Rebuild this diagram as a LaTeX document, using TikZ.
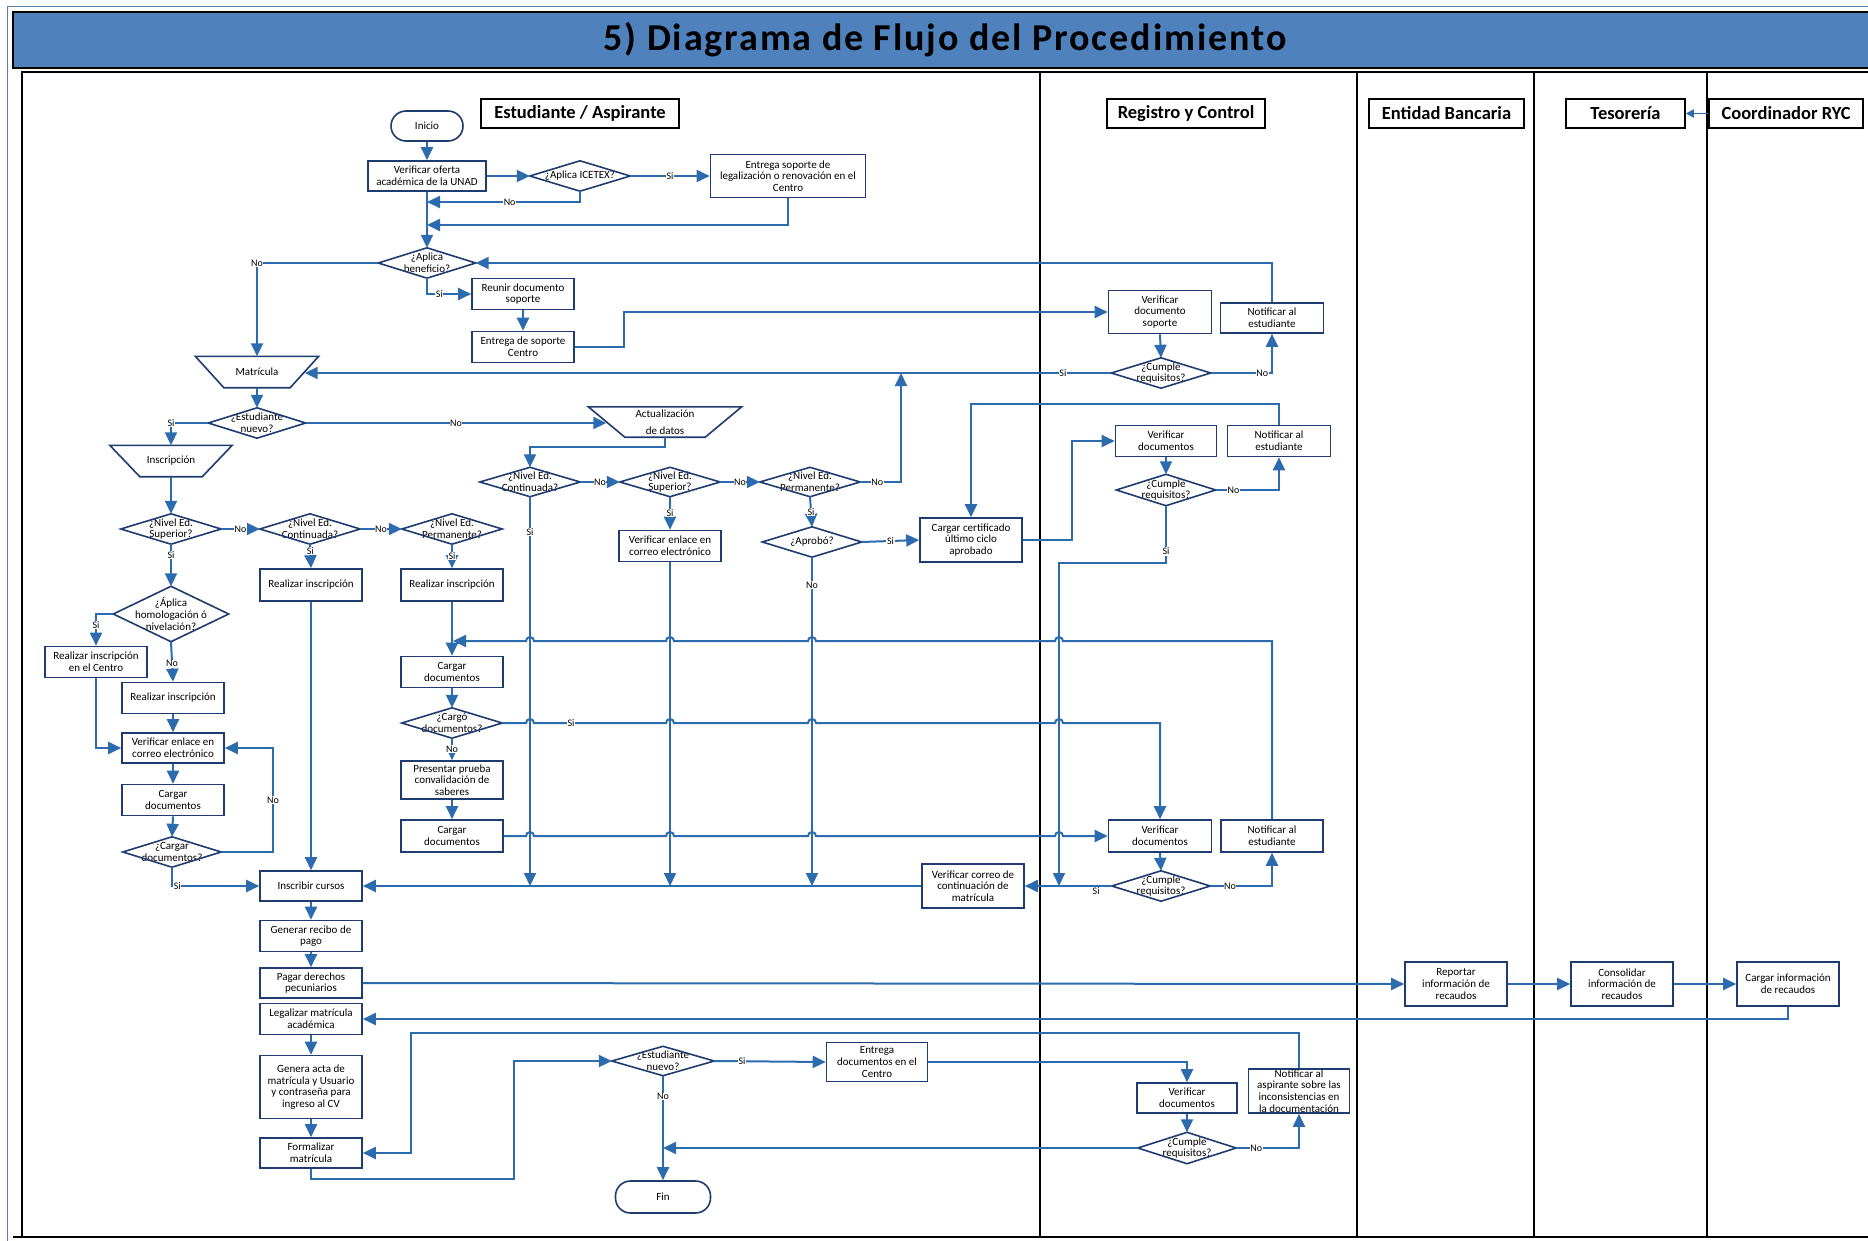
\documentclass[tikz,border=0pt]{standalone}
\usepackage{fontspec}
\setmainfont{Carlito}
\usetikzlibrary{arrows.meta}
\definecolor{boxc}{RGB}{30,60,112}
\definecolor{flowc}{RGB}{44,108,174}
\definecolor{headc}{RGB}{79,129,189}
\definecolor{rimc}{RGB}{90,125,170}
\newcommand\nf{\fontsize{11}{11.7}\selectfont}
\newcommand\lf{\fontsize{10}{11}\selectfont}
\newcommand\lanef{\bfseries\fontsize{18.5}{20}\selectfont}
% small bridge where a horizontal connector crosses a vertical one
\newcommand\hopR[2]{-- ({#1-4},#2) arc[start angle=180,end angle=0,radius=4pt]}
\newcommand\hopL[2]{-- ({#1+4},#2) arc[start angle=0,end angle=180,radius=4pt]}

\begin{document}
\begin{tikzpicture}[x=1pt,y=-1pt,
  box/.style={draw=boxc, line width=1.6pt, fill=white, minimum width=102pt, minimum height=31pt, inner sep=1pt, align=center, font=\nf},
  term/.style={box, rounded corners=15pt},
  dia/.style={minimum width=100pt, minimum height=30pt, inner sep=0pt, align=center, font=\nf},
  trap/.style={inner sep=0pt, align=center, font=\nf},
  outl/.style={draw=boxc, line width=1.6pt},
  flow/.style={draw=flowc, line width=2pt, -{Triangle[length=13pt,width=12pt]}},
  lab/.style={font=\lf, fill=white, inner sep=0.6pt, text=black},
  lane/.style={draw=black, line width=1.5pt, fill=white, font=\lanef, inner sep=0pt},
  sep/.style={draw=black, line width=2.4pt}]

\useasboundingbox (0,0) rectangle (1868,1241);
\fill[white] (0,0) rectangle (1868,1241);

% frame, title band and swimlanes
\draw[rimc, line width=1pt] (1868,7) -- (7,7) -- (7,1241);
\draw[black, line width=2pt, fill=headc] (13,12) rectangle (1880,68);
\node[font=\bfseries\fontsize{38}{42}\selectfont\addfontfeature{LetterSpace=5}] (title) at (945,40) {5) Diagrama de Flujo del Procedimiento};
\draw[sep] (22,1237) -- (22,72) -- (1868,72);
\draw[sep] (13,1237) -- (1868,1237);
\foreach \x in {1040,1357,1534,1707} \draw[sep] (\x,72) -- (\x,1237);

\node[lane, minimum width=198pt, minimum height=29pt] (hest) at (580,113.5) {Estudiante / Aspirante};
\node[lane, minimum width=158pt, minimum height=29pt] (hreg) at (1186,113.5) {Registro y Control};
\node[lane, minimum width=155pt, minimum height=29pt] (hent) at (1446.5,113.5) {Entidad Bancaria};
\node[lane, minimum width=119pt, minimum height=29pt] (htes) at (1625.5,113.5) {Tesorería};
\node[lane, minimum width=154pt, minimum height=29pt] (hcoo) at (1786,113.5) {Coordinador RYC};

% ---------- nodes ----------
\node[term, minimum width=72pt, minimum height=30pt] (ini) at (427,126) {Inicio};
\node[box, minimum width=118pt, minimum height=30pt] (vo) at (427,176) {Verificar oferta\\académica de la UNAD};
\node[dia] (ice) at (580,176) {¿Aplica ICETEX?};
\node[box, minimum width=155pt, minimum height=43pt] (esl) at (788,176) {Entrega soporte de\\legalización o renovación en el\\Centro};
\node[dia, minimum width=97pt] (ab) at (427,263) {¿Aplica\\beneficio?};
\node[box] (rds) at (523,294) {Reunir documento\\soporte};
\node[box] (esc) at (523,347) {Entrega de soporte\\Centro};
\node[box, minimum width=103pt, minimum height=43pt] (vds) at (1160,312) {Verificar\\documento\\soporte};
\node[box, minimum width=103pt, minimum height=30pt] (nt1) at (1272,318) {Notificar al\\estudiante};
\node[dia, minimum width=99pt] (cr1) at (1161,373) {¿Cumple\\requisitos?};

\node[trap, minimum width=123pt, minimum height=31pt] (mat) at (257,372) {Matrícula};
\node[dia, minimum width=97pt] (en1) at (257,423) {¿Estudiante\\nuevo?};
\node[trap, minimum width=153pt, minimum height=30pt, font=\fontsize{11}{17}\selectfont] (act) at (665,422) {Actualización\\de datos};
\node[trap, minimum width=122pt, minimum height=31pt] (ins) at (171,461) {Inscripción};

\node[dia] (ns1) at (171,529) {¿Nivel Ed.\\Superior?};
\node[dia] (nc1) at (310,529) {¿Nivel Ed.\\Continuada?};
\node[dia] (np1) at (452,529) {¿Nivel Ed.\\Permanente?};
\node[dia, minimum width=115pt, minimum height=55pt] (hom) at (171,614) {¿Áplica\\homologación ó\\nivelación?};
\node[box] (ric) at (96,662) {Realizar inscripción\\en el Centro};
\node[box] (ri1) at (173,698) {Realizar inscripción};
\node[box, minimum height=30pt] (vel1) at (173,748) {Verificar enlace en\\correo electrónico};
\node[box] (cdl) at (173,800) {Cargar\\documentos};
\node[dia, minimum width=98pt] (qcl) at (172,852) {¿Cargar\\documentos?};
\node[box, minimum height=32pt] (ri2) at (311,585) {Realizar inscripción};
\node[box, minimum height=32pt] (ri3) at (452,585) {Realizar inscripción};
\node[box] (cd3) at (452,672) {Cargar\\documentos};
\node[dia] (qc3) at (452,723) {¿Cargó\\documentos?};
\node[box, minimum height=38pt] (pp) at (452,780) {Presentar prueba\\convalidación de\\saberes};
\node[box, minimum height=32pt] (cd4) at (452,836) {Cargar\\documentos};

\node[dia, minimum height=29pt] (nc2) at (530,482) {¿Nivel Ed.\\Continuada?};
\node[dia, minimum height=29pt] (ns2) at (670,482) {¿Nivel Ed.\\Superior?};
\node[dia, minimum height=29pt] (np2) at (810,482) {¿Nivel Ed.\\Permanente?};
\node[box] (vel2) at (670,546) {Verificar enlace en\\correo electrónico};
\node[dia, minimum width=99pt] (apr) at (812,542) {¿Aprobó?};
\node[box, minimum height=44pt] (ccu) at (971,540) {Cargar certificado\\último ciclo\\aprobado};

\node[box, minimum width=101pt] (vd2) at (1166,441) {Verificar\\documentos};
\node[box, minimum width=103pt] (nt2) at (1279,441) {Notificar al\\estudiante};
\node[dia, minimum width=99pt, minimum height=31pt] (cr2) at (1166,490) {¿Cumple\\requisitos?};

\node[box, minimum width=103pt, minimum height=32pt] (vd3) at (1160,836) {Verificar\\documentos};
\node[box, minimum height=32pt] (nt3) at (1272,836) {Notificar al\\estudiante};
\node[dia, minimum width=98pt] (cr3) at (1161,886) {¿Cumple\\requisitos?};
\node[box, minimum height=44pt] (vcc) at (973,886) {Verificar correo de\\continuación de\\matrícula};

\node[box, minimum height=30pt] (ic) at (311,886) {Inscribir cursos};
\node[box] (grp) at (311,936) {Generar recibo de\\pago};
\node[box, minimum height=30pt] (pag) at (311,983) {Pagar derechos\\pecuniarios};
\node[box] (leg) at (311,1019) {Legalizar matrícula\\académica};
\node[box, minimum height=63pt] (acta) at (311,1087) {Genera acta de\\matrícula y Usuario\\y contraseña para\\ingreso al CV};
\node[box, minimum height=30pt] (form) at (311,1153) {Formalizar\\matrícula};

\node[dia, minimum width=102pt, minimum height=29pt] (en2) at (663,1061) {¿Estudiante\\nuevo?};
\node[box, minimum width=101pt, minimum height=39pt] (edc) at (877,1062) {Entrega\\documentos en el\\Centro};
\node[box, minimum width=100pt, minimum height=30pt] (vd4) at (1187,1098) {Verificar\\documentos};
\node[box, minimum width=101pt, minimum height=44pt, inner sep=0pt] (nta) at (1299,1091) {Notificar al\\aspirante sobre las\\inconsistencias en\\la documentación};
\node[dia, minimum width=98pt, minimum height=31pt] (cr4) at (1187,1148) {¿Cumple\\requisitos?};
\node[term, minimum width=95pt, minimum height=32pt] (fin) at (663,1197) {Fin};

\node[box, minimum height=44pt] (rep) at (1456,984) {Reportar\\información de\\recaudos};
\node[box, minimum height=44pt] (con) at (1622,984) {Consolidar\\información de\\recaudos};
\node[box, minimum height=44pt] (cri) at (1788,984) {Cargar información\\de recaudos};

% decision and data outlines
\foreach \d in {ice,ab,cr1,en1,ns1,nc1,np1,hom,qcl,qc3,nc2,ns2,np2,apr,cr2,cr3,en2,cr4}
  \draw[outl] (\d.north) -- (\d.east) -- (\d.south) -- (\d.west) -- cycle;
\draw[outl] (mat.north west) -- (mat.north east) -- ([xshift=-28.5pt]mat.south east) -- ([xshift=28.5pt]mat.south west) -- cycle;
\draw[outl] (act.north west) -- (act.north east) -- ([xshift=-36.5pt]act.south east) -- ([xshift=36.5pt]act.south west) -- cycle;
\draw[outl] (ins.north west) -- (ins.north east) -- ([xshift=-30pt]ins.south east) -- ([xshift=30pt]ins.south west) -- cycle;

% ---------- connectors ----------
\draw[draw=flowc, line width=1.5pt, -{Triangle[length=8pt,width=8pt]}] (hcoo.west) -- (htes.east);

\coordinate (j1) at (427,202);
\coordinate (j2) at (427,225);
\draw[flow] (ini.south) -- (vo.north);
\draw[flow] (vo.east) -- (ice.west);
\draw[flow] (ice.east) -- node[lab]{Si} (esl.west);
\draw[flow] (ice.south) |- node[lab,pos=0.73]{No} (j1);
\draw[flow] (esl.south) |- (j2);
\draw[flow] (vo.south) -- (ab.north);
\draw[flow] (ab.west) -| node[lab,pos=0.5]{No} (mat.north);
\draw[flow] (ab.south) |- node[lab,pos=0.64]{Si} (rds.west);
\draw[flow] (rds.south) -- (esc.north);
\draw[flow] (esc.east) -- ++(49,0) |- (vds.west);
\draw[flow] (vds.south) -- (cr1.north);
\draw[flow] (cr1.east) -| node[lab,pos=0.42]{No} (nt1.south);
\draw[flow] (nt1.north) |- (ab.east);
\coordinate (matR) at ([xshift=-14pt]mat.east);
\draw[flow] (cr1.west) -- node[lab,pos=0.06]{Si} (cr1.west -| matR);

\coordinate (actL) at ([xshift=18pt]act.west);
\draw[flow] (mat.south) -- (en1.north);
\draw[flow] (en1.east) -- node[lab]{No} (en1.east -| actL);
\draw[flow] (en1.west) -| node[lab,pos=0.5]{Si} (ins.north);
\draw[flow] (act.south) -- ++(0,10) -| (nc2.north);

\draw[flow] (ins.south) -- (ns1.north);
\draw[flow] (ns1.east) -- node[lab]{No} (nc1.west);
\draw[flow] (nc1.east) -- node[lab]{No} (np1.west);
\draw[flow] (ns1.south) -- node[lab,pos=0.26]{Si} (hom.north);
\draw[flow] (hom.west) -| node[lab,pos=0.67]{Si} (ric.north);
\draw[flow] (hom.south) -- node[lab,pos=0.55]{No} (ri1.north);
\draw[flow] (ri1.south) -- (vel1.north);
\draw[flow] (ric.south) |- (vel1.west);
\draw[flow] (vel1.south) -- (cdl.north);
\draw[flow] (cdl.south) -- (qcl.north);
\coordinate (qn) at (273,852);
\draw[flow] (qcl.east) -- (qn) -- node[lab]{No} (qn |- vel1.east) -- (vel1.east);
\draw[flow] (qcl.south) |- node[lab,pos=0.53]{Si} (ic.west);

\draw[flow] (nc1.south) -- node[lab,pos=0.3]{Si} (ri2.north);
\draw[flow] (ri2.south) -- (ic.north);
\draw[flow] (np1.south) -- node[lab,pos=0.5]{Si} (ri3.north);
\draw[flow] (ri3.south) -- (cd3.north);
\draw[flow] (cd3.south) -- (qc3.north);
\draw[flow] (qc3.south) -- node[lab]{No} (pp.north);
\draw[flow] (pp.south) -- (cd4.north);

\draw[flow] (nc2.east) -- node[lab]{No} (ns2.west);
\draw[flow] (ns2.east) -- node[lab]{No} (np2.west);
\draw[flow] (ns2.south) -- node[lab,pos=0.5]{Si} (vel2.north);
\draw[flow] (np2.south) -- node[lab,pos=0.5]{Si} (apr.north);
\coordinate (pup) at (901,373);
\draw[flow] (np2.east) -| node[lab,pos=0.21]{No} (pup);
\draw[flow] (apr.east) -- node[lab]{Si} (ccu.west);
\draw[flow] (nc2.south) -- node[lab,pos=0.09]{Si} (nc2.south |- ic.east);
\draw[flow] (vel2.south) -- (vel2.south |- ic.east);
\draw[flow] (apr.south) -- node[lab,pos=0.085]{No} (apr.south |- ic.east);

\draw[flow] (ccu.east) -- ++(49,0) |- (vd2.west);
\draw[flow] (vd2.south) -- (cr2.north);
\draw[flow] (cr2.east) -| node[lab,pos=0.14]{No} (nt2.south);
\draw[flow] (nt2.north) -- ++(0,-21) -| (ccu.north);
\coordinate (v4) at (1059,563);
\draw[flow] (cr2.south) -- node[lab,pos=0.8]{Si} (cr2.south |- v4) -- (v4) -- (v4 |- vcc.east);

% crossing connectors with bridges
\coordinate (m3) at (453,641);
\draw[flow] (qc3.east) \hopR{530}{723} \hopR{670}{723} \hopR{812}{723} \hopR{1059}{723} -- (vd3.north |- qc3.east) -- (vd3.north);
\node[lab] (lsi) at (571,723) {Si};
\draw[flow] (cd4.east) \hopR{530}{836} \hopR{670}{836} \hopR{812}{836} \hopR{1059}{836} -- (vd3.west);
\draw[flow] (nt3.north) -- (nt3.north |- m3) \hopL{1059}{641} \hopL{812}{641} \hopL{670}{641} \hopL{530}{641} -- (m3);

\draw[flow] (vd3.south) -- (cr3.north);
\draw[flow] (cr3.east) -| node[lab,pos=0.16]{No} (nt3.south);
\draw[flow] (cr3.west) -- node[lab,pos=0.18,yshift=-5pt]{Si} (vcc.east);
\draw[flow] (vcc.west) -- (ic.east);

\draw[flow] (ic.south) -- (grp.north);
\draw[flow] (grp.south) -- (pag.north);
\draw[flow] (leg.south) -- (acta.north);
\draw[flow] (acta.south) -- (form.north);
\draw[flow] (pag.east) -- (rep.west);
\draw[flow] (rep.east) -- (con.west);
\draw[flow] (con.east) -- (cri.west);
\draw[flow] (cri.south) |- (leg.east);

\coordinate (fa) at (411,1033);
\coordinate (fb) at (514,1179);
\draw[flow] (nta.north) |- (fa) |- (form.east);
\draw[flow] (form.south) |- (fb) |- (en2.west);
\draw[flow] (en2.east) -- node[lab,pos=0.25]{Si} (edc.west);
\draw[flow] (edc.east) -| (vd4.north);
\draw[flow] (vd4.south) -- (cr4.north);
\draw[flow] (cr4.east) -| node[lab,pos=0.16]{No} (nta.south);
\draw[flow] (cr4.west) -- (cr4.west -| en2.south);
\draw[flow] (en2.south) -- node[lab,pos=0.2]{No} (fin.north);
\end{tikzpicture}
\end{document}
